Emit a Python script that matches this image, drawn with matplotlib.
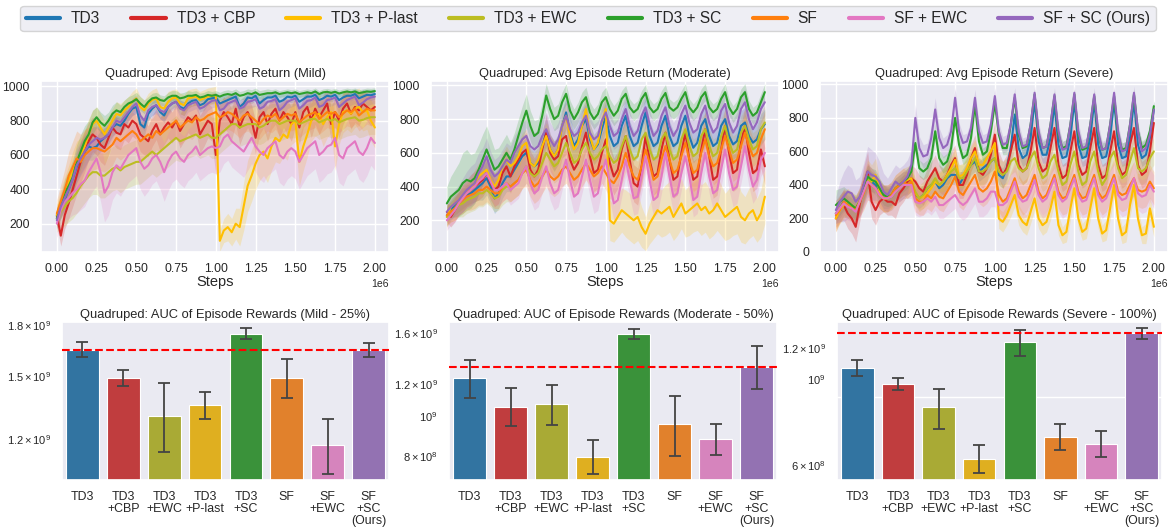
import numpy as np
import matplotlib
matplotlib.use("Agg")
import matplotlib.pyplot as plt
import seaborn as sns
from matplotlib.lines import Line2D
from matplotlib.ticker import FixedLocator, FixedFormatter, NullFormatter

sns.set_theme(style="darkgrid")
plt.rcParams["font.family"] = ["Liberation Sans", "DejaVu Sans"]
plt.rcParams["mathtext.fontset"] = "custom"
plt.rcParams["mathtext.rm"] = "Liberation Sans"
plt.rcParams["mathtext.it"] = "Liberation Sans:italic"

# ---------------------------------------------------------------- methods
methods = ["TD3", "TD3 + CBP", "TD3 + P-last", "TD3 + EWC",
           "TD3 + SC", "SF", "SF + EWC", "SF + SC (Ours)"]
colors = ["#1f77b4", "#d62728", "#ffbf00", "#bcbd22",
          "#2ca02c", "#ff7f0e", "#e377c2", "#9467bd"]

# evaluation steps of the learning curves
steps = np.arange(0, 2_000_001, 25_000)

# ---------------------------------------------------------------- Mild curves (mean)
mild_td3 = [240, 280, 340, 400, 460, 530, 580, 620, 650, 640, 650,
            680, 700, 720, 760, 780, 770, 800, 840, 870, 880,
            780, 760, 840, 870, 890, 850, 830, 880, 900, 910,
            880, 870, 900, 915, 920, 890, 900, 925, 930, 935,
            900, 910, 920, 930, 940, 880, 900, 935, 930, 945,
            900, 920, 935, 935, 945, 910, 920, 940, 935, 945,
            910, 925, 940, 940, 950, 920, 930, 945, 940, 950,
            920, 935, 945, 945, 955, 930, 940, 950, 948, 955]
mild_cbp = [250, 130, 250, 320, 400, 480, 560, 620, 680, 720, 700,
            660, 640, 700, 760, 730, 720, 780, 760, 800, 780,
            720, 700, 680, 740, 780, 720, 760, 790, 760, 800,
            740, 780, 820, 800, 830, 720, 760, 800, 780, 600,
            800, 850, 820, 780, 870, 760, 820, 850, 800, 700,
            820, 850, 780, 840, 870, 800, 850, 820, 780, 850,
            760, 850, 880, 800, 870, 820, 860, 900, 780, 850,
            800, 870, 900, 840, 880, 860, 900, 880, 860, 880]
mild_plast = [250, 320, 380, 440, 520, 580, 600, 650, 720, 780, 800,
              760, 720, 760, 800, 840, 830, 860, 880, 910, 930,
              880, 860, 900, 920, 930, 880, 870, 910, 930, 935,
              900, 890, 930, 935, 940, 920, 930, 940, 945, 950,
              100, 160, 180, 150, 200, 180, 300, 420, 480, 550,
              600, 620, 580, 650, 700, 680, 720, 700, 780, 800,
              560, 650, 720, 800, 830, 840, 780, 820, 850, 650,
              780, 850, 860, 840, 870, 880, 850, 860, 800, 760]
mild_ewc = [230, 270, 300, 330, 350, 380, 420, 450, 480, 500, 500,
            480, 480, 500, 520, 530, 510, 530, 540, 550, 560,
            560, 580, 600, 620, 600, 620, 640, 660, 680, 700,
            680, 690, 700, 710, 720, 700, 710, 720, 700, 700,
            720, 740, 760, 780, 780, 760, 770, 780, 780, 780,
            760, 770, 790, 800, 800, 780, 790, 800, 800, 800,
            780, 790, 800, 810, 810, 790, 800, 810, 800, 810,
            790, 800, 810, 815, 820, 800, 805, 815, 820, 820]
mild_sc = [230, 300, 380, 420, 470, 560, 620, 680, 720, 790, 820,
           790, 770, 800, 840, 860, 850, 880, 900, 910, 925,
           900, 880, 910, 930, 935, 920, 915, 935, 945, 945,
           930, 935, 945, 945, 950, 935, 940, 950, 945, 950,
           940, 950, 955, 950, 960, 945, 950, 960, 955, 965,
           950, 955, 960, 960, 965, 955, 960, 965, 960, 965,
           955, 960, 965, 960, 970, 955, 965, 968, 962, 968,
           958, 965, 970, 965, 970, 960, 965, 970, 968, 972]
mild_sf = [260, 330, 400, 480, 530, 580, 560, 600, 620, 640, 640,
           630, 620, 640, 660, 700, 680, 700, 720, 740, 720,
           680, 700, 720, 700, 740, 720, 740, 760, 780, 800,
           760, 780, 800, 790, 820, 800, 810, 830, 840, 850,
           820, 830, 850, 840, 820, 800, 830, 840, 820, 800,
           780, 810, 830, 820, 840, 800, 820, 840, 830, 840,
           790, 810, 830, 840, 850, 810, 830, 850, 840, 850,
           820, 840, 860, 850, 870, 830, 850, 870, 860, 860]
mild_sfewc = [200, 280, 330, 350, 380, 400, 430, 450, 500, 540, 580,
              500, 380, 420, 500, 540, 520, 560, 600, 620, 640,
              560, 520, 540, 580, 600, 560, 500, 560, 600, 620,
              580, 560, 600, 620, 650, 600, 620, 640, 650, 640,
              650, 700, 720, 680, 660, 640, 620, 660, 700, 650,
              620, 600, 640, 660, 680, 600, 580, 620, 640, 620,
              560, 600, 640, 660, 680, 600, 620, 650, 660, 700,
              600, 580, 640, 660, 680, 620, 600, 640, 700, 670]
mild_sfsc = [220, 300, 350, 400, 460, 540, 580, 620, 660, 680, 700,
             690, 700, 720, 760, 800, 790, 820, 850, 880, 900,
             830, 800, 860, 880, 890, 860, 850, 880, 900, 910,
             870, 860, 890, 900, 910, 870, 880, 900, 915, 920,
             860, 870, 900, 910, 920, 870, 880, 910, 915, 925,
             870, 880, 910, 915, 925, 860, 880, 910, 920, 930,
             870, 890, 915, 920, 935, 880, 890, 920, 925, 935,
             880, 900, 920, 930, 940, 890, 905, 925, 935, 940]

# ---------------------------------------------------------------- Mild curves (band half-width)
mild_td3_w = [40, 50, 60, 70, 80, 90, 90, 90, 80, 70, 60,
              60, 60, 50, 50, 50, 50, 50, 40, 40, 40,
              50, 50, 40, 40, 40, 40, 40, 40, 30, 30,
              40, 40, 30, 30, 30, 40, 40, 30, 30, 30,
              40, 40, 30, 30, 30, 40, 40, 30, 30, 30,
              40, 40, 30, 30, 30, 40, 40, 30, 30, 30,
              40, 40, 30, 30, 30, 40, 40, 30, 30, 30,
              40, 40, 30, 30, 30, 40, 40, 30, 30, 30]
mild_cbp_w = [60, 60, 80, 90, 100, 110, 120, 120, 110, 100, 100,
              100, 100, 100, 90, 90, 90, 90, 90, 90, 90,
              100, 100, 90, 90, 90, 100, 100, 90, 90, 90,
              100, 100, 90, 90, 90, 110, 110, 100, 100, 120,
              100, 90, 90, 90, 90, 100, 100, 90, 90, 100,
              100, 90, 100, 90, 90, 100, 90, 100, 100, 90,
              100, 90, 90, 100, 90, 100, 90, 80, 100, 90,
              100, 90, 80, 90, 90, 90, 80, 80, 90, 80]
mild_plast_w = [60, 80, 90, 100, 100, 100, 100, 90, 90, 80, 80,
                80, 80, 70, 70, 70, 70, 60, 60, 60, 60,
                60, 60, 60, 60, 60, 60, 60, 60, 50, 50,
                60, 60, 50, 50, 50, 50, 50, 50, 50, 50,
                60, 70, 80, 80, 90, 110, 140, 150, 150, 150,
                150, 140, 140, 140, 140, 130, 130, 130, 120, 120,
                140, 140, 130, 120, 120, 120, 130, 120, 120, 140,
                120, 120, 110, 110, 110, 110, 110, 110, 120, 120]
mild_ewc_w = [80, 100, 110, 120, 120, 120, 130, 130, 130, 130, 130,
              130, 130, 130, 130, 130, 130, 130, 130, 130, 130,
              130, 130, 130, 130, 130, 130, 130, 130, 130, 130,
              120, 120, 120, 120, 120, 120, 120, 120, 120, 120,
              110, 110, 110, 110, 110, 110, 110, 110, 110, 110,
              100, 100, 100, 100, 100, 100, 100, 100, 100, 100,
              100, 100, 100, 100, 100, 100, 100, 100, 100, 100,
              100, 100, 100, 100, 100, 100, 100, 100, 100, 100]
mild_sc_w = [60, 70, 80, 90, 100, 100, 100, 90, 80, 70, 60,
             60, 60, 50, 50, 50, 40, 40, 40, 40, 40,
             40, 40, 30, 30, 30, 30, 30, 30, 30, 30,
             30, 30, 30, 25, 25, 25, 25, 25, 25, 25,
             25, 25, 25, 25, 25, 25, 25, 25, 25, 25,
             25, 25, 25, 20, 20, 20, 20, 20, 20, 20,
             20, 20, 20, 20, 20, 20, 20, 20, 20, 20,
             20, 20, 20, 20, 20, 20, 20, 20, 20, 20]
mild_sf_w = [80, 100, 120, 140, 150, 160, 160, 150, 140, 130, 120,
             120, 120, 120, 120, 110, 110, 110, 110, 110, 110,
             110, 110, 110, 110, 110, 100, 100, 100, 100, 100,
             100, 100, 100, 100, 100, 100, 100, 100, 100, 100,
             100, 100, 100, 100, 100, 100, 100, 100, 100, 100,
             90, 90, 90, 90, 90, 90, 90, 90, 90, 90,
             90, 90, 90, 90, 90, 90, 90, 90, 90, 90,
             90, 90, 90, 90, 90, 90, 90, 90, 90, 90]
mild_sfewc_w = [80, 100, 110, 120, 130, 140, 150, 150, 150, 150, 160,
                170, 170, 170, 160, 160, 160, 160, 160, 160, 160,
                160, 160, 150, 150, 150, 160, 170, 170, 160, 160,
                150, 150, 150, 150, 150, 150, 150, 150, 150, 150,
                150, 150, 150, 150, 150, 150, 150, 150, 150, 150,
                160, 160, 160, 160, 160, 160, 160, 160, 160, 160,
                160, 160, 160, 160, 160, 160, 160, 160, 160, 160,
                160, 160, 160, 160, 160, 160, 160, 160, 160, 160]
mild_sfsc_w = [50, 60, 70, 80, 90, 100, 100, 100, 90, 80, 70,
               70, 70, 60, 60, 60, 60, 60, 50, 50, 50,
               60, 60, 50, 50, 50, 50, 50, 50, 40, 40,
               50, 50, 40, 40, 40, 50, 50, 40, 40, 40,
               50, 50, 40, 40, 40, 50, 50, 40, 40, 40,
               50, 50, 40, 40, 40, 50, 50, 40, 40, 40,
               50, 50, 40, 40, 40, 50, 50, 40, 40, 40,
               50, 50, 40, 40, 40, 50, 50, 40, 40, 40]

# ---------------------------------------------------------------- Moderate curves (mean)
mod_td3 = [230, 260, 290, 310, 330, 350, 360, 380, 400, 420, 450,
           400, 330, 360, 420, 460, 460, 500, 540, 580, 600,
           540, 520, 540, 640, 720, 620, 580, 620, 760, 840,
           720, 640, 680, 760, 800, 680, 620, 650, 740, 820,
           700, 640, 660, 760, 820, 700, 640, 660, 760, 840,
           700, 640, 660, 760, 820, 700, 640, 660, 760, 820,
           700, 630, 660, 760, 800, 700, 640, 660, 760, 800,
           700, 650, 670, 760, 780, 700, 660, 680, 740, 770]
mod_cbp = [250, 220, 260, 300, 330, 360, 380, 400, 420, 440, 480,
           420, 380, 400, 480, 520, 460, 520, 560, 600, 620,
           500, 460, 500, 620, 720, 600, 560, 580, 680, 700,
           560, 500, 540, 640, 720, 580, 480, 500, 600, 680,
           540, 460, 500, 620, 700, 560, 420, 400, 520, 700,
           560, 460, 480, 620, 720, 560, 440, 460, 600, 720,
           560, 440, 460, 620, 740, 580, 440, 460, 620, 760,
           600, 480, 500, 660, 760, 600, 480, 500, 620, 520]
mod_plast = [220, 280, 300, 320, 340, 360, 380, 420, 460, 480, 500,
             440, 400, 440, 520, 560, 520, 540, 580, 640, 660,
             540, 520, 560, 640, 700, 620, 580, 620, 760, 820,
             700, 620, 660, 760, 860, 700, 620, 660, 780, 860,
             200, 180, 220, 260, 240, 220, 200, 220, 160, 120,
             180, 220, 260, 240, 260, 280, 220, 260, 300, 240,
             260, 280, 300, 260, 280, 240, 260, 300, 260, 220,
             240, 260, 280, 220, 200, 240, 260, 200, 240, 340]
mod_ewc = [220, 250, 270, 290, 300, 320, 330, 340, 360, 360, 380,
           360, 330, 340, 380, 400, 400, 420, 440, 480, 520,
           480, 460, 480, 540, 600, 560, 520, 540, 600, 660,
           600, 540, 560, 620, 660, 600, 560, 580, 620, 640,
           580, 540, 560, 640, 700, 620, 560, 580, 680, 720,
           620, 560, 580, 680, 720, 620, 560, 580, 680, 740,
           640, 580, 600, 700, 740, 640, 580, 600, 700, 760,
           660, 600, 620, 720, 760, 680, 620, 640, 740, 780]
mod_sc = [300, 340, 360, 380, 420, 440, 430, 450, 500, 560, 620,
          560, 500, 520, 560, 600, 560, 620, 700, 780, 850,
          760, 700, 720, 820, 940, 860, 800, 820, 900, 950,
          850, 800, 840, 900, 930, 840, 800, 830, 900, 930,
          860, 820, 850, 920, 950, 870, 840, 860, 920, 955,
          870, 840, 860, 920, 955, 870, 850, 870, 920, 960,
          870, 840, 870, 930, 960, 870, 840, 860, 920, 960,
          870, 830, 860, 930, 960, 860, 820, 840, 900, 960]
mod_sf = [230, 250, 270, 300, 320, 340, 350, 360, 380, 380, 400,
          380, 360, 360, 400, 420, 400, 420, 440, 480, 500,
          440, 400, 420, 460, 500, 460, 440, 460, 500, 520,
          480, 440, 460, 500, 540, 500, 460, 480, 520, 480,
          440, 420, 460, 520, 600, 520, 460, 440, 520, 620,
          540, 440, 460, 560, 640, 560, 480, 500, 580, 660,
          560, 480, 500, 600, 680, 580, 520, 540, 620, 700,
          620, 540, 560, 640, 720, 640, 580, 600, 680, 740]
mod_sfewc = [200, 230, 260, 300, 330, 360, 380, 400, 430, 450, 480,
             430, 380, 380, 400, 420, 380, 400, 420, 480, 520,
             420, 360, 380, 460, 520, 420, 360, 380, 480, 560,
             440, 340, 360, 460, 560, 440, 340, 360, 480, 560,
             420, 300, 320, 440, 560, 440, 330, 340, 460, 580,
             440, 320, 340, 460, 600, 460, 340, 360, 480, 580,
             460, 320, 340, 480, 600, 460, 360, 380, 500, 620,
             480, 380, 400, 520, 640, 500, 400, 440, 560, 600]
mod_sfsc = [250, 280, 300, 320, 350, 380, 400, 420, 480, 520, 580,
            500, 460, 480, 520, 560, 540, 600, 640, 680, 700,
            640, 620, 640, 700, 740, 680, 640, 680, 760, 820,
            740, 700, 720, 780, 820, 720, 680, 700, 790, 840,
            760, 700, 720, 800, 860, 760, 700, 730, 820, 870,
            770, 700, 730, 820, 870, 760, 700, 740, 830, 880,
            780, 720, 740, 830, 880, 780, 720, 750, 850, 890,
            780, 720, 760, 860, 900, 800, 740, 780, 860, 900]

# ---------------------------------------------------------------- Moderate curves (band half-width)
mod_td3_w = [60, 60, 60, 60, 60, 60, 60, 70, 80, 100, 100,
             100, 90, 90, 90, 90, 90, 90, 90, 90, 90,
             90, 90, 90, 90, 90, 90, 90, 90, 90, 90,
             90, 90, 90, 90, 90, 90, 90, 90, 90, 90,
             90, 90, 90, 90, 90, 90, 90, 90, 90, 90,
             90, 90, 90, 90, 90, 90, 90, 90, 90, 90,
             90, 90, 90, 90, 90, 90, 90, 90, 90, 90,
             90, 90, 90, 90, 90, 90, 90, 90, 90, 90]
mod_cbp_w = [60, 60, 70, 70, 80, 80, 90, 90, 100, 100, 100,
             100, 100, 100, 100, 100, 100, 100, 100, 100, 100,
             110, 110, 110, 110, 110, 110, 110, 110, 110, 110,
             110, 110, 110, 110, 110, 110, 110, 110, 110, 110,
             110, 110, 110, 110, 110, 110, 110, 110, 110, 110,
             110, 110, 110, 110, 110, 110, 110, 110, 110, 110,
             110, 110, 110, 110, 110, 110, 110, 110, 110, 110,
             110, 110, 110, 110, 110, 110, 110, 110, 110, 110]
mod_plast_w = [60, 60, 70, 70, 80, 80, 80, 80, 80, 80, 80,
               80, 80, 80, 80, 80, 80, 80, 80, 80, 80,
               80, 80, 80, 80, 80, 80, 80, 80, 80, 80,
               80, 80, 80, 80, 80, 80, 80, 80, 80, 80,
               120, 110, 120, 130, 140, 140, 140, 140, 120, 100,
               120, 130, 140, 140, 150, 150, 140, 150, 150, 140,
               150, 150, 160, 150, 150, 150, 150, 160, 150, 140,
               150, 150, 160, 150, 140, 150, 150, 130, 140, 160]
mod_ewc_w = [60, 60, 70, 70, 80, 80, 80, 80, 80, 80, 80,
             80, 80, 80, 90, 90, 90, 90, 90, 90, 100,
             100, 100, 100, 100, 100, 100, 100, 100, 100, 100,
             100, 100, 100, 100, 100, 100, 100, 100, 100, 100,
             100, 100, 100, 100, 100, 100, 100, 100, 100, 100,
             100, 100, 100, 100, 100, 100, 100, 100, 100, 100,
             100, 100, 100, 100, 100, 100, 100, 100, 100, 100,
             100, 100, 100, 100, 100, 100, 100, 100, 100, 100]
mod_sc_w = [100, 120, 140, 160, 180, 180, 160, 150, 150, 150, 140,
            130, 120, 110, 110, 110, 100, 100, 100, 100, 100,
            90, 90, 80, 80, 70, 70, 70, 70, 60, 60,
            60, 60, 60, 60, 60, 60, 60, 60, 60, 60,
            60, 60, 60, 50, 50, 50, 50, 50, 50, 50,
            50, 50, 50, 50, 50, 50, 50, 50, 50, 50,
            50, 50, 50, 50, 50, 50, 50, 50, 50, 50,
            50, 50, 50, 50, 50, 50, 50, 50, 50, 50]
mod_sf_w = [60, 60, 70, 70, 80, 80, 90, 90, 90, 90, 90,
            90, 90, 90, 90, 90, 90, 90, 90, 90, 100,
            100, 100, 100, 100, 100, 100, 100, 100, 100, 100,
            100, 100, 100, 100, 100, 100, 100, 100, 100, 100,
            110, 110, 110, 110, 110, 110, 110, 110, 110, 110,
            110, 110, 110, 110, 110, 110, 110, 110, 110, 110,
            110, 110, 110, 110, 110, 110, 110, 110, 110, 110,
            110, 110, 110, 110, 110, 110, 110, 110, 110, 110]
mod_sfewc_w = [60, 60, 70, 70, 80, 80, 90, 90, 90, 90, 90,
               90, 90, 90, 90, 90, 90, 90, 90, 90, 100,
               100, 100, 100, 100, 100, 100, 100, 100, 100, 100,
               100, 100, 100, 100, 100, 100, 100, 100, 100, 100,
               100, 100, 100, 100, 100, 100, 100, 100, 100, 100,
               100, 100, 100, 100, 100, 100, 100, 100, 100, 100,
               100, 100, 100, 100, 100, 100, 100, 100, 100, 100,
               100, 100, 100, 100, 100, 100, 100, 100, 100, 100]
mod_sfsc_w = [60, 70, 80, 90, 100, 110, 120, 120, 120, 110, 110,
              110, 100, 100, 100, 100, 100, 100, 100, 100, 100,
              100, 100, 100, 100, 100, 100, 100, 100, 100, 100,
              90, 90, 90, 90, 90, 90, 90, 90, 90, 90,
              80, 80, 80, 80, 80, 80, 80, 80, 80, 80,
              80, 80, 80, 80, 80, 80, 80, 80, 80, 80,
              80, 80, 80, 80, 80, 80, 80, 80, 80, 80,
              80, 80, 80, 80, 80, 80, 80, 80, 80, 80]

# ---------------------------------------------------------------- Severe curves (mean)
sev_td3 = [230, 260, 300, 280, 260, 250, 300, 360, 440, 420, 400,
           360, 320, 320, 330, 360, 380, 400, 400, 420, 340,
           320, 340, 380, 400, 420, 380, 400, 440, 460, 460,
           400, 440, 480, 520, 540, 480, 500, 520, 540, 560,
           460, 440, 500, 620, 820, 620, 560, 580, 680, 900,
           660, 580, 580, 680, 880, 640, 560, 570, 680, 900,
           640, 560, 570, 680, 900, 640, 560, 570, 680, 900,
           640, 560, 570, 680, 900, 640, 560, 580, 680, 850]
sev_cbp = [200, 260, 280, 230, 200, 150, 280, 400, 480, 300, 250,
           300, 320, 300, 300, 280, 350, 380, 420, 440, 420,
           380, 360, 420, 460, 500, 440, 420, 460, 520, 560,
           400, 400, 460, 560, 620, 480, 460, 500, 580, 700,
           520, 460, 500, 600, 700, 520, 480, 500, 600, 740,
           540, 480, 500, 620, 740, 520, 440, 460, 600, 720,
           520, 460, 480, 620, 740, 520, 440, 460, 600, 720,
           520, 460, 480, 640, 740, 520, 460, 480, 600, 770]
sev_plast = [200, 250, 280, 300, 280, 260, 300, 380, 450, 420, 460,
             360, 320, 320, 340, 380, 400, 420, 430, 440, 350,
             320, 330, 350, 380, 420, 400, 420, 460, 500, 550,
             450, 460, 500, 560, 600, 520, 520, 560, 600, 650,
             200, 180, 220, 280, 340, 220, 180, 160, 240, 320,
             200, 160, 180, 260, 360, 160, 100, 120, 260, 380,
             200, 120, 140, 260, 380, 200, 110, 130, 260, 400,
             200, 100, 120, 280, 400, 200, 100, 110, 260, 150]
sev_ewc = [230, 260, 290, 280, 270, 260, 300, 360, 440, 400, 380,
           340, 320, 320, 330, 360, 380, 400, 400, 420, 360,
           320, 340, 380, 400, 440, 400, 420, 450, 480, 500,
           440, 440, 480, 520, 560, 480, 480, 500, 540, 560,
           480, 460, 480, 540, 560, 500, 480, 500, 560, 600,
           500, 440, 460, 540, 580, 480, 400, 420, 520, 600,
           480, 400, 420, 540, 600, 480, 400, 440, 560, 600,
           500, 440, 460, 540, 620, 500, 480, 500, 560, 600]
sev_sc = [280, 300, 320, 300, 280, 260, 300, 380, 450, 430, 420,
          380, 340, 330, 340, 380, 400, 420, 440, 480, 650,
          500, 480, 500, 560, 720, 560, 520, 540, 620, 800,
          640, 560, 580, 680, 880, 660, 580, 600, 720, 890,
          700, 620, 620, 760, 920, 700, 620, 630, 760, 940,
          700, 620, 630, 760, 930, 700, 620, 630, 760, 940,
          700, 610, 620, 760, 930, 700, 610, 620, 760, 930,
          700, 610, 620, 760, 940, 720, 620, 640, 720, 870]
sev_sf = [220, 250, 300, 280, 260, 250, 300, 350, 420, 400, 380,
          340, 320, 320, 340, 380, 400, 420, 400, 420, 320,
          300, 300, 340, 320, 360, 330, 320, 360, 400, 450,
          360, 340, 380, 420, 460, 380, 360, 380, 420, 480,
          340, 300, 320, 380, 440, 360, 320, 340, 400, 460,
          360, 320, 340, 400, 460, 360, 320, 330, 400, 460,
          360, 320, 330, 400, 460, 360, 320, 340, 400, 460,
          360, 340, 350, 400, 440, 370, 360, 370, 420, 380]
sev_sfewc = [230, 260, 290, 270, 260, 240, 300, 360, 420, 400, 380,
             340, 320, 320, 330, 360, 380, 400, 400, 400, 300,
             290, 300, 320, 300, 330, 280, 280, 300, 320, 340,
             300, 280, 300, 340, 380, 300, 300, 320, 360, 360,
             280, 280, 300, 360, 420, 330, 300, 310, 360, 430,
             340, 300, 320, 380, 440, 340, 300, 320, 380, 440,
             340, 300, 310, 380, 440, 340, 300, 320, 380, 440,
             340, 310, 320, 380, 440, 350, 330, 340, 400, 360]
sev_sfsc = [250, 300, 330, 360, 350, 300, 330, 400, 480, 460, 450,
            420, 360, 340, 380, 420, 400, 420, 450, 520, 800,
            620, 570, 580, 680, 850, 680, 620, 640, 720, 920,
            720, 650, 660, 740, 920, 720, 650, 660, 760, 930,
            720, 640, 650, 760, 940, 720, 630, 640, 760, 950,
            720, 620, 630, 760, 940, 720, 610, 620, 760, 950,
            720, 620, 630, 760, 940, 720, 610, 620, 760, 950,
            720, 600, 610, 760, 950, 720, 600, 620, 700, 850]

# ---------------------------------------------------------------- Severe curves (band half-width)
sev_td3_w = [60, 60, 60, 60, 60, 60, 60, 60, 60, 60, 60,
             60, 60, 60, 60, 60, 60, 60, 60, 60, 60,
             60, 60, 60, 60, 60, 60, 60, 60, 60, 60,
             60, 60, 60, 60, 60, 60, 60, 60, 60, 60,
             60, 60, 60, 60, 50, 50, 50, 50, 50, 40,
             50, 50, 50, 50, 40, 50, 50, 50, 50, 40,
             50, 50, 50, 50, 40, 50, 50, 50, 50, 40,
             50, 50, 50, 50, 40, 50, 50, 50, 50, 50]
sev_cbp_w = [80, 80, 90, 90, 90, 90, 100, 110, 120, 100, 90,
             80, 80, 80, 80, 80, 80, 80, 80, 80, 80,
             80, 80, 80, 80, 80, 80, 80, 80, 80, 80,
             80, 80, 80, 80, 80, 80, 80, 80, 80, 80,
             80, 80, 80, 80, 80, 80, 80, 80, 80, 80,
             80, 80, 80, 80, 80, 80, 80, 80, 80, 80,
             80, 80, 80, 80, 80, 80, 80, 80, 80, 80,
             80, 80, 80, 80, 80, 80, 80, 80, 80, 80]
sev_plast_w = [80, 80, 80, 80, 80, 80, 80, 90, 100, 100, 100,
               80, 80, 80, 80, 80, 80, 80, 80, 80, 70,
               70, 70, 70, 70, 70, 70, 70, 70, 70, 70,
               70, 70, 70, 70, 70, 70, 70, 70, 70, 70,
               60, 60, 60, 70, 70, 60, 60, 60, 70, 70,
               60, 60, 60, 70, 70, 60, 50, 60, 70, 70,
               60, 50, 60, 70, 70, 60, 50, 60, 70, 70,
               60, 50, 60, 70, 70, 60, 50, 60, 70, 60]
sev_ewc_w = [80, 80, 80, 80, 80, 80, 80, 80, 80, 80, 80,
             80, 80, 80, 80, 80, 80, 80, 80, 80, 80,
             80, 80, 80, 80, 80, 80, 80, 80, 80, 80,
             80, 80, 80, 80, 80, 80, 80, 80, 80, 80,
             80, 80, 80, 80, 80, 80, 80, 80, 80, 80,
             80, 80, 80, 80, 80, 80, 80, 80, 80, 80,
             80, 80, 80, 80, 80, 80, 80, 80, 80, 80,
             80, 80, 80, 80, 80, 80, 80, 80, 80, 80]
sev_sc_w = [90, 80, 70, 70, 70, 70, 70, 70, 70, 70, 70,
            60, 60, 60, 60, 60, 60, 60, 60, 60, 60,
            50, 50, 50, 50, 50, 50, 50, 50, 50, 50,
            40, 40, 40, 40, 40, 40, 40, 40, 40, 40,
            40, 40, 40, 40, 30, 40, 40, 40, 40, 30,
            40, 40, 40, 40, 30, 40, 40, 40, 40, 30,
            40, 40, 40, 40, 30, 40, 40, 40, 40, 30,
            40, 40, 40, 40, 30, 40, 40, 40, 40, 30]
sev_sf_w = [80, 80, 80, 80, 80, 80, 90, 100, 110, 100, 90,
            80, 80, 80, 80, 80, 80, 80, 80, 80, 80,
            80, 80, 80, 80, 80, 80, 80, 80, 80, 80,
            90, 90, 90, 90, 90, 90, 90, 90, 90, 90,
            100, 100, 100, 100, 100, 100, 100, 100, 100, 100,
            100, 100, 100, 100, 100, 100, 100, 100, 100, 100,
            100, 100, 100, 100, 100, 100, 100, 100, 100, 100,
            100, 100, 100, 100, 100, 100, 100, 100, 100, 100]
sev_sfewc_w = [80, 80, 80, 80, 80, 80, 90, 100, 110, 100, 90,
               80, 80, 80, 80, 80, 80, 80, 80, 80, 80,
               80, 80, 80, 80, 80, 80, 80, 80, 80, 80,
               90, 90, 90, 90, 90, 90, 90, 90, 90, 90,
               100, 100, 100, 100, 100, 100, 100, 100, 100, 100,
               100, 100, 100, 100, 100, 100, 100, 100, 100, 100,
               100, 100, 100, 100, 100, 100, 100, 100, 100, 100,
               100, 100, 100, 100, 100, 100, 100, 100, 100, 100]
sev_sfsc_w = [80, 120, 150, 160, 150, 130, 120, 130, 150, 150, 140,
              120, 110, 100, 100, 100, 100, 100, 100, 90, 80,
              70, 70, 70, 70, 70, 60, 60, 60, 60, 60,
              50, 50, 50, 50, 50, 50, 50, 50, 50, 50,
              50, 50, 50, 50, 40, 50, 50, 50, 50, 40,
              50, 50, 50, 50, 40, 50, 50, 50, 50, 40,
              50, 50, 50, 50, 40, 50, 50, 50, 50, 40,
              50, 50, 50, 50, 40, 50, 50, 50, 50, 50]

# ---------------------------------------------------------------- AUC bars
bar_labels = ["TD3", "TD3\n+CBP", "TD3\n+EWC", "TD3\n+P-last", "TD3\n+SC",
              "SF", "SF\n+EWC", "SF\n+SC\n(Ours)"]
bar_colors = ["#1f77b4", "#d62728", "#bcbd22", "#ffbf00",
              "#2ca02c", "#ff7f0e", "#e377c2", "#9467bd"]

auc_mild_mean = [1.648e9, 1.491e9, 1.301e9, 1.352e9, 1.745e9, 1.488e9, 1.173e9, 1.648e9]
auc_mild_lo = [1.604e9, 1.451e9, 1.144e9, 1.289e9, 1.714e9, 1.388e9, 1.061e9, 1.604e9]
auc_mild_hi = [1.696e9, 1.536e9, 1.466e9, 1.418e9, 1.783e9, 1.592e9, 1.290e9, 1.690e9]

auc_mod_mean = [1.239e9, 1.056e9, 1.070e9, 0.797e9, 1.588e9, 0.960e9, 0.882e9, 1.322e9]
auc_mod_lo = [1.107e9, 0.947e9, 0.952e9, 0.724e9, 1.541e9, 0.800e9, 0.804e9, 1.165e9]
auc_mod_hi = [1.376e9, 1.175e9, 1.193e9, 0.875e9, 1.636e9, 1.123e9, 0.960e9, 1.487e9]

auc_sev_mean = [1.063e9, 0.969e9, 0.845e9, 0.620e9, 1.241e9, 0.710e9, 0.680e9, 1.309e9]
auc_sev_lo = [1.014e9, 0.936e9, 0.741e9, 0.571e9, 1.147e9, 0.656e9, 0.629e9, 1.263e9]
auc_sev_hi = [1.120e9, 1.004e9, 0.944e9, 0.676e9, 1.338e9, 0.767e9, 0.735e9, 1.354e9]

# ---------------------------------------------------------------- figure
W, H = 1169, 527
fig = plt.figure(figsize=(W / 100, H / 100), dpi=100)


def px_axes(left, top, right, bottom):
    return fig.add_axes([left / W, 1 - bottom / H, (right - left) / W, (bottom - top) / H])


curve_panels = [
    ("Quadruped: Avg Episode Return (Mild)", (41, 81, 389, 252), (35, 1031),
     [mild_td3, mild_cbp, mild_plast, mild_ewc, mild_sc, mild_sf, mild_sfewc, mild_sfsc],
     [mild_td3_w, mild_cbp_w, mild_plast_w, mild_ewc_w, mild_sc_w, mild_sf_w, mild_sfewc_w, mild_sfsc_w]),
    ("Quadruped: Avg Episode Return (Moderate)", (431, 81, 779, 252), (12, 1026),
     [mod_td3, mod_cbp, mod_plast, mod_ewc, mod_sc, mod_sf, mod_sfewc, mod_sfsc],
     [mod_td3_w, mod_cbp_w, mod_plast_w, mod_ewc_w, mod_sc_w, mod_sf_w, mod_sfewc_w, mod_sfsc_w]),
    ("Quadruped: Avg Episode Return (Severe)", (820, 81, 1168, 252), (0, 1020),
     [sev_td3, sev_cbp, sev_plast, sev_ewc, sev_sc, sev_sf, sev_sfewc, sev_sfsc],
     [sev_td3_w, sev_cbp_w, sev_plast_w, sev_ewc_w, sev_sc_w, sev_sf_w, sev_sfewc_w, sev_sfsc_w]),
]

for title, box, ylim, means, widths in curve_panels:
    ax = px_axes(*box)
    for mean, wid, col in zip(means, widths, colors):
        m = np.asarray(mean, float)
        w = np.asarray(wid, float)
        ax.fill_between(steps, m - w, m + w, color=col, alpha=0.2, lw=0)
        ax.plot(steps, m, color=col, lw=1.5)
    ax.set_xlim(-0.0995e6, 2.089e6)
    ax.set_ylim(*ylim)
    ax.set_title(title, fontsize=9.3, pad=3)
    ax.set_xlabel("Steps", fontsize=10.5, labelpad=0)
    ax.tick_params(labelsize=8.7, pad=2)
    ax.xaxis.get_offset_text().set_fontsize(7.5)

bar_panels = [
    ("Quadruped: AUC of Episode Rewards (Mild - 25%)", (62, 322, 389, 480),
     (1.037e9, 1.819e9), auc_mild_mean, auc_mild_lo, auc_mild_hi,
     [1.2e9, 1.5e9, 1.8e9],
     [r"$1.2\times10^{9}$", r"$1.5\times10^{9}$", r"$1.8\times10^{9}$"],
     [1.2e9, 1.5e9, 1.8e9]),
    ("Quadruped: AUC of Episode Rewards (Moderate - 50%)", (449, 322, 777, 480),
     (0.699e9, 1.70e9), auc_mod_mean, auc_mod_lo, auc_mod_hi,
     [8e8, 1e9, 1.2e9, 1.6e9],
     [r"$8\times10^{8}$", r"$10^{9}$", r"$1.2\times10^{9}$", r"$1.6\times10^{9}$"],
     [8e8, 1.2e9, 1.6e9]),
    ("Quadruped: AUC of Episode Rewards (Severe - 100%)", (837, 322, 1162, 480),
     (0.549e9, 1.40e9), auc_sev_mean, auc_sev_lo, auc_sev_hi,
     [6e8, 1e9, 1.2e9],
     [r"$6\times10^{8}$", r"$10^{9}$", r"$1.2\times10^{9}$"],
     [6e8, 9e8, 1.2e9]),
]

for title, box, ylim, mean, lo, hi, yt, ytl, grid_y in bar_panels:
    ax = px_axes(*box)
    ax.set_yscale("log")
    mean = np.asarray(mean)
    lo = np.asarray(lo)
    hi = np.asarray(hi)
    xs = np.arange(len(mean))
    fc = [sns.desaturate(c, 0.75) for c in bar_colors]
    ax.bar(xs, mean, width=0.8, color=fc, edgecolor="white", linewidth=0.8, zorder=2)
    ax.errorbar(xs, mean, yerr=[mean - lo, hi - mean], fmt="none",
                ecolor="#444444", elinewidth=1.3, capsize=4, capthick=1.3, zorder=3)
    ax.axhline(mean[-1], color="red", ls="--", lw=1.5, zorder=4)
    ax.set_xlim(-0.5, 7.5)
    ax.set_ylim(*ylim)
    ax.set_xticks(xs)
    ax.set_xticklabels(bar_labels, fontsize=8.9, linespacing=1.0)
    ax.yaxis.set_major_locator(FixedLocator(yt))
    ax.yaxis.set_major_formatter(FixedFormatter(ytl))
    ax.yaxis.set_minor_locator(FixedLocator(grid_y))
    ax.yaxis.set_minor_formatter(NullFormatter())
    ax.xaxis.grid(False)
    ax.yaxis.grid(False, which="major")
    ax.yaxis.grid(True, which="minor", color="white", lw=1.0)
    ax.set_axisbelow(True)
    ax.tick_params(axis="y", labelsize=8, pad=2, which="both", left=False)
    ax.tick_params(axis="x", pad=2)
    ax.set_title(title, fontsize=9.3, pad=3)

handles = [Line2D([0], [0], color=c, lw=3) for c in colors]
fig.legend(handles, methods, loc="center", bbox_to_anchor=(588 / W, 1 - 18.5 / H),
           ncol=8, fontsize=11.2, handlelength=2.2, handletextpad=0.7,
           columnspacing=2.0, borderpad=0.35, frameon=True)

fig.savefig("out.png", dpi=100)
